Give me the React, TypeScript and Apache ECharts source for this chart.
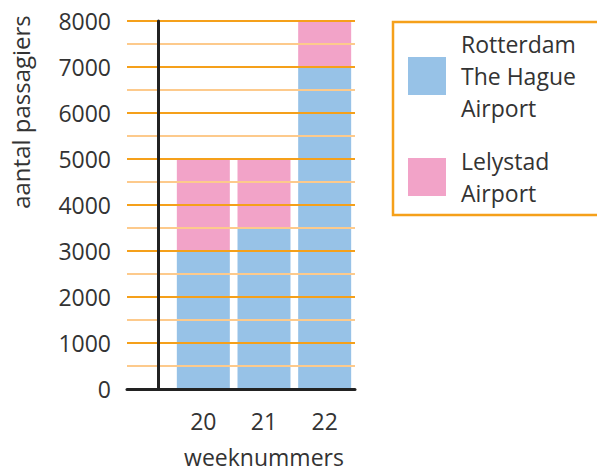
import React, { useEffect, useRef } from "react";
import * as echarts from "echarts";

const weeks = ["20", "21", "22"];
const rotterdam = [3000, 3500, 7000];
const lelystad = [2000, 1500, 1000];
const seriesNames = ["Rotterdam\nThe Hague\nAirport", "Lelystad\nAirport"];
const yTicks = { min: 0, max: 8000, interval: 1000 };

const FONT = "'Open Sans', Lato, sans-serif";
const TEXT = "#333333";
const ORANGE = "#f5a01a";
const ORANGE_LIGHT = "#fdca8c";
const BLUE = "#97c2e7";
const PINK = "#f2a3c8";
const BLACK = "#222222";

export default function App() {
  const ref = useRef<HTMLDivElement>(null);
  useEffect(() => {
    if (!ref.current) return;
    const chart = echarts.init(ref.current, undefined, { renderer: "svg" });
    chart.setOption({
      animation: false,
      textStyle: { fontFamily: FONT },
      grid: [
        { left: 173, right: 242, top: 21, bottom: 84, outerBoundsMode: "none", containLabel: false },
        { left: 127, right: 242, top: 21, bottom: 84, outerBoundsMode: "none", containLabel: false },
      ],
      legend: {
        orient: "vertical",
        left: 393,
        top: 22,
        data: seriesNames,
        icon: "rect",
        itemWidth: 38,
        itemHeight: 38,
        itemGap: 21,
        padding: [6, 30, 6, 15],
        borderColor: ORANGE,
        borderWidth: 2.5,
        selectedMode: false,
        textStyle: {
          fontFamily: FONT,
          fontSize: 23,
          lineHeight: 32,
          color: TEXT,
          padding: [0, 0, 0, 10],
        },
      },
      xAxis: [
        {
          gridIndex: 0,
          type: "category",
          data: weeks,
          axisLine: { show: false },
          axisTick: { show: false },
          axisLabel: { fontSize: 23, color: TEXT, margin: 20, fontFamily: FONT },
          name: "weeknummers",
          nameLocation: "middle",
          nameGap: 57,
          nameTextStyle: { fontSize: 23, lineHeight: 22, color: TEXT, fontFamily: FONT },
        },
        {
          gridIndex: 1,
          type: "value",
          min: 0,
          max: 1,
          axisLine: { show: true, lineStyle: { color: BLACK, width: 3 } },
          axisTick: { show: false },
          axisLabel: { show: false },
          splitLine: { show: false },
          z: 5,
        },
      ],
      yAxis: [
        {
          gridIndex: 0,
          type: "value",
          min: yTicks.min,
          max: yTicks.max,
          interval: yTicks.interval,
          offset: 15,
          axisLine: { show: true, lineStyle: { color: BLACK, width: 3 } },
          axisTick: { show: false },
          axisLabel: { show: false },
          splitLine: { show: false },
          z: 6,
        },
        {
          gridIndex: 1,
          type: "value",
          min: yTicks.min,
          max: yTicks.max,
          interval: yTicks.interval,
          axisLine: { show: false },
          axisTick: { show: false },
          axisLabel: {
            fontSize: 23,
            color: TEXT,
            margin: 16,
            fontFamily: FONT,
            formatter: (v: number) => String(v),
          },
          splitLine: { show: true, lineStyle: { color: ORANGE, width: 2 } },
          minorTick: { show: false, splitNumber: 2 },
          minorSplitLine: { show: true, lineStyle: { color: ORANGE_LIGHT, width: 2 } },
          z: 4,
        },
      ],
      graphic: [
        {
          type: "text",
          x: 20,
          y: 112,
          rotation: Math.PI / 2,
          style: {
            text: "aantal passagiers",
            fontSize: 24,
            fontFamily: FONT,
            fill: TEXT,
            align: "center",
            verticalAlign: "middle",
          },
        },
      ],
      series: [
        {
          name: seriesNames[0],
          type: "bar",
          xAxisIndex: 0,
          yAxisIndex: 0,
          stack: "total",
          barWidth: 53,
          data: rotterdam,
          itemStyle: { color: BLUE },
        },
        {
          name: seriesNames[1],
          type: "bar",
          xAxisIndex: 0,
          yAxisIndex: 0,
          stack: "total",
          barWidth: 53,
          data: lelystad,
          itemStyle: { color: PINK },
        },
      ],
    });
    return () => chart.dispose();
  }, []);
  return (
    <div
      ref={ref}
      style={{ position: "absolute", left: 0, top: 0, width: 597, height: 473 }}
    />
  );
}
